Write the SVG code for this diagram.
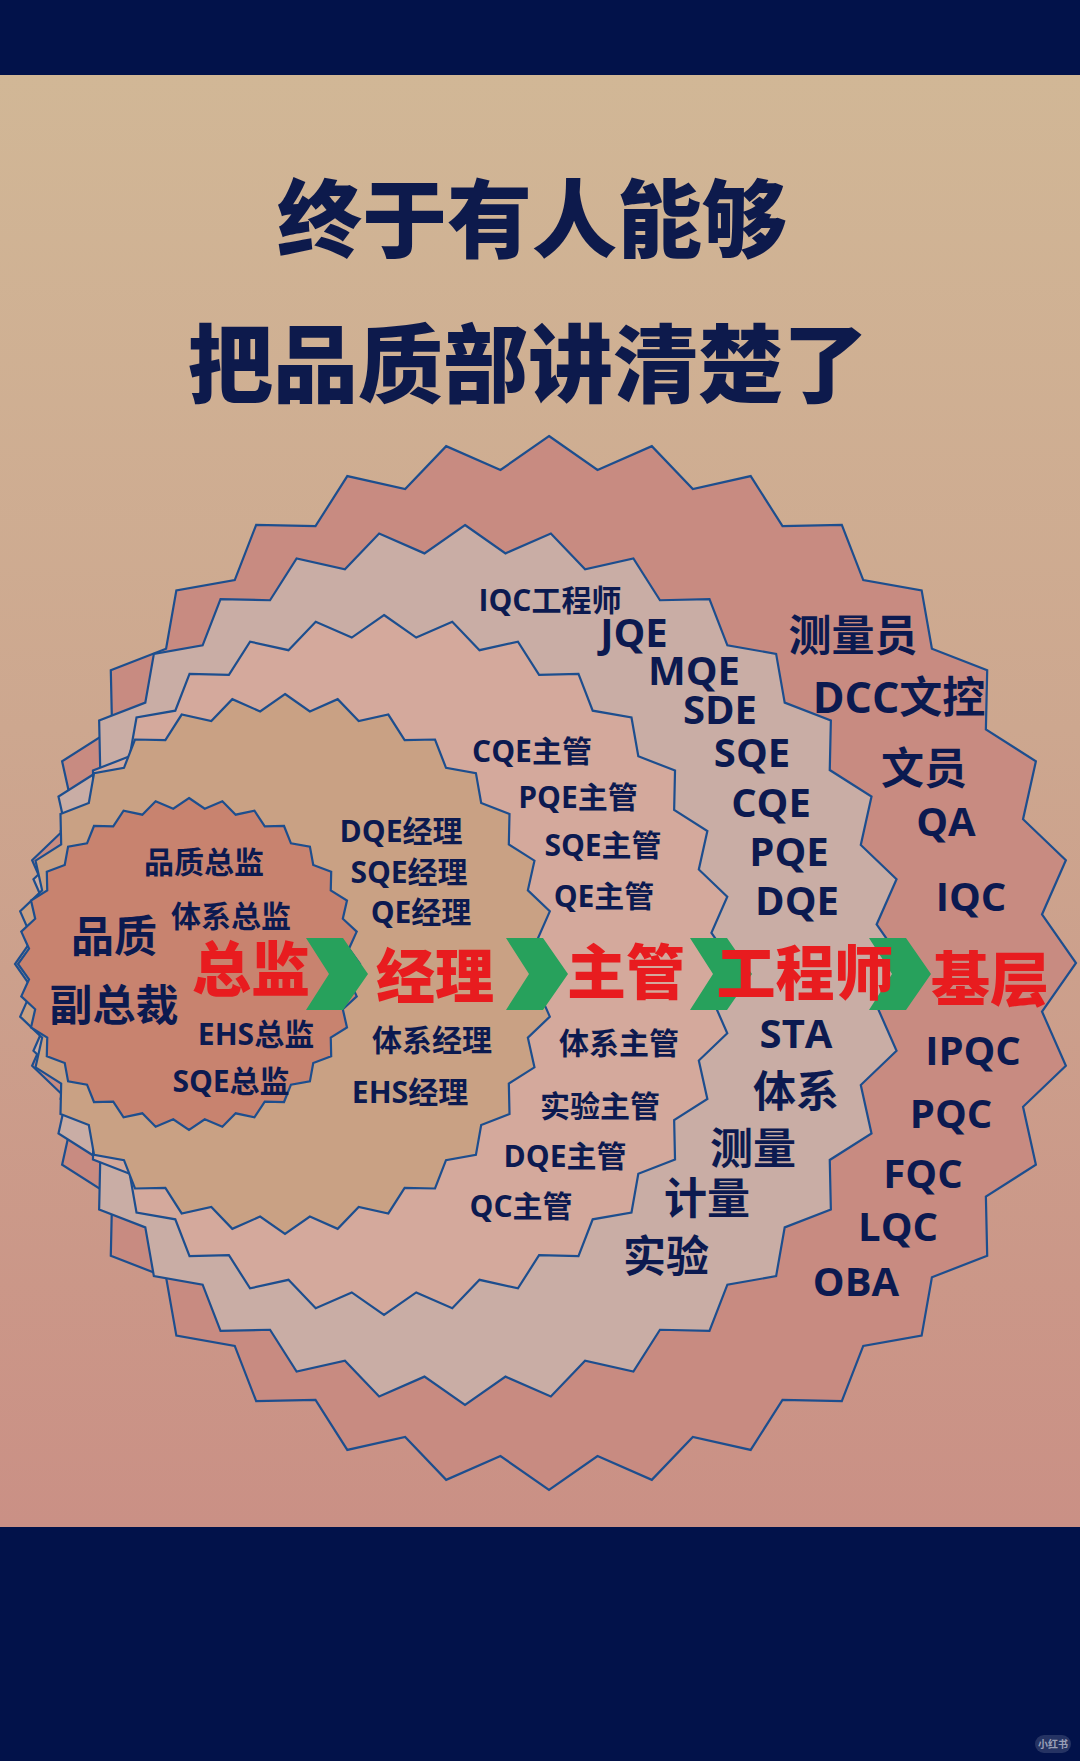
<svg xmlns="http://www.w3.org/2000/svg" width="1080" height="1761" viewBox="0 0 1080 1761">
<defs>
<linearGradient id="bg" x1="0" y1="0" x2="0" y2="1">
<stop offset="0" stop-color="#d1b796"/>
<stop offset="0.45" stop-color="#cda78f"/>
<stop offset="1" stop-color="#ca9085"/>
</linearGradient>
<path id="star" vector-effect="non-scaling-stroke" d="M0,-100 L9.21,-93.55 L19.51,-98.08 L27.29,-89.95 L38.27,-92.39 L44.31,-82.9 L55.56,-83.15 L59.63,-72.66 L70.71,-70.71 L72.66,-59.63 L83.15,-55.56 L82.9,-44.31 L92.39,-38.27 L89.95,-27.29 L98.08,-19.51 L93.55,-9.21 L100,0 L93.55,9.21 L98.08,19.51 L89.95,27.29 L92.39,38.27 L82.9,44.31 L83.15,55.56 L72.66,59.63 L70.71,70.71 L59.63,72.66 L55.56,83.15 L44.31,82.9 L38.27,92.39 L27.29,89.95 L19.51,98.08 L9.21,93.55 L0,100 L-9.21,93.55 L-19.51,98.08 L-27.29,89.95 L-38.27,92.39 L-44.31,82.9 L-55.56,83.15 L-59.63,72.66 L-70.71,70.71 L-72.66,59.63 L-83.15,55.56 L-82.9,44.31 L-92.39,38.27 L-89.95,27.29 L-98.08,19.51 L-93.55,9.21 L-100,0 L-93.55,-9.21 L-98.08,-19.51 L-89.95,-27.29 L-92.39,-38.27 L-82.9,-44.31 L-83.15,-55.56 L-72.66,-59.63 L-70.71,-70.71 L-59.63,-72.66 L-55.56,-83.15 L-44.31,-82.9 L-38.27,-92.39 L-27.29,-89.95 L-19.51,-98.08 L-9.21,-93.55 Z"/>
<path id="chev" d="M0,0 L37,0 L62,36 L37,72 L0,72 L23,36 Z"/>
</defs>
<style>
.band{fill:#02124a}
.st{stroke:#1d4e8e;stroke-width:2.2;stroke-linejoin:miter}
.chev{fill:#27a15c}
.t{font-family:'Open Sans','Noto Sans CJK SC',sans-serif;font-weight:700;fill:#0c1a50;text-anchor:middle}
.s{font-size:30px}
.m{font-size:40px}
.c{font-size:43px}
.r{font-family:'Noto Sans CJK SC',sans-serif;font-size:59px;font-weight:900;fill:#e81c1f}
.title{font-family:'Noto Sans CJK SC',sans-serif;font-size:85px;font-weight:900;fill:#0d1a4c;text-anchor:middle}
</style>

<rect x="0" y="0" width="1080" height="1761" class="band"/>
<rect x="0" y="75" width="1080" height="1452" fill="url(#bg)"/>

<g id="title">
<text class="title" x="532" y="251">终于有人能够</text>
<text class="title" x="528" y="396">把品质部讲清楚了</text>
</g>

<g id="level-base"><use href="#star" class="st" fill="#c88b81" transform="translate(549,963) scale(5.27)"/></g>
<g id="level-engineer"><use href="#star" class="st" fill="#c9ada5" transform="translate(465,965) scale(4.4)"/></g>
<g id="level-supervisor"><use href="#star" class="st" fill="#d4a99c" transform="translate(384,965) scale(3.5)"/></g>
<g id="level-manager"><use href="#star" class="st" fill="#c9a184" transform="translate(285,964) scale(2.7)"/></g>
<g id="level-director"><use href="#star" class="st" fill="#c8836f" transform="translate(189,964) scale(1.71,1.66)"/></g>

<g id="connectors">
<use href="#chev" class="chev" x="306" y="938"/>
<use href="#chev" class="chev" x="506" y="938"/>
<use href="#chev" class="chev" x="690" y="938"/>
<use href="#chev" class="chev" x="869" y="938"/>
</g>

<g id="labels-director">
<text class="t s" x="204" y="873">品质总监</text>
<text class="t s" x="231" y="927">体系总监</text>
<text class="t c" x="114" y="952">品质</text>
<text class="t c" x="114" y="1021">副总裁</text>
<text class="t s" x="256" y="1045">EHS总监</text>
<text class="t s" x="231" y="1092">SQE总监</text>
<text class="t r" x="251" y="991">总监</text>
</g>

<g id="labels-manager">
<text class="t s" x="401" y="842">DQE经理</text>
<text class="t s" x="409" y="883">SQE经理</text>
<text class="t s" x="421" y="923">QE经理</text>
<text class="t s" x="432" y="1051">体系经理</text>
<text class="t s" x="410" y="1103">EHS经理</text>
<text class="t r" x="435" y="998">经理</text>
</g>

<g id="labels-supervisor">
<text class="t s" x="532" y="762">CQE主管</text>
<text class="t s" x="578" y="808">PQE主管</text>
<text class="t s" x="603" y="856">SQE主管</text>
<text class="t s" x="604" y="907">QE主管</text>
<text class="t s" x="619" y="1054">体系主管</text>
<text class="t s" x="600" y="1117">实验主管</text>
<text class="t s" x="565" y="1167">DQE主管</text>
<text class="t s" x="521" y="1217">QC主管</text>
<text class="t r" x="626" y="994">主管</text>
</g>

<g id="labels-engineer">
<text class="t s" x="550" y="611">IQC工程师</text>
<text class="t m" x="634" y="647">JQE</text>
<text class="t m" x="694" y="685">MQE</text>
<text class="t m" x="720" y="724">SDE</text>
<text class="t m" x="752" y="767">SQE</text>
<text class="t m" x="771" y="817">CQE</text>
<text class="t m" x="789" y="866">PQE</text>
<text class="t m" x="797" y="915">DQE</text>
<text class="t m" x="796" y="1048">STA</text>
<text class="t c" x="796" y="1107">体系</text>
<text class="t c" x="753" y="1164">测量</text>
<text class="t c" x="707" y="1214">计量</text>
<text class="t c" x="666" y="1272">实验</text>
<text class="t r" x="805" y="995">工程师</text>
</g>

<g id="labels-base">
<text class="t c" x="853" y="651">测量员</text>
<text class="t c" x="899" y="713">DCC文控</text>
<text class="t c" x="924" y="784">文员</text>
<text class="t m" x="946" y="836">QA</text>
<text class="t m" x="971" y="911">IQC</text>
<text class="t m" x="973" y="1065">IPQC</text>
<text class="t m" x="951" y="1128">PQC</text>
<text class="t m" x="923" y="1188">FQC</text>
<text class="t m" x="898" y="1241">LQC</text>
<text class="t m" x="856" y="1296">OBA</text>
<text class="t r" x="990" y="1001">基层</text>
</g>

<g id="watermark">
<rect x="1035" y="1735" width="36" height="18" rx="9" fill="#ffffff" fill-opacity="0.14"/>
<text x="1053" y="1748" font-family="'Noto Sans CJK SC',sans-serif" font-size="10" font-weight="700" fill="#9aa0b8" text-anchor="middle">小红书</text>
</g>
</svg>
